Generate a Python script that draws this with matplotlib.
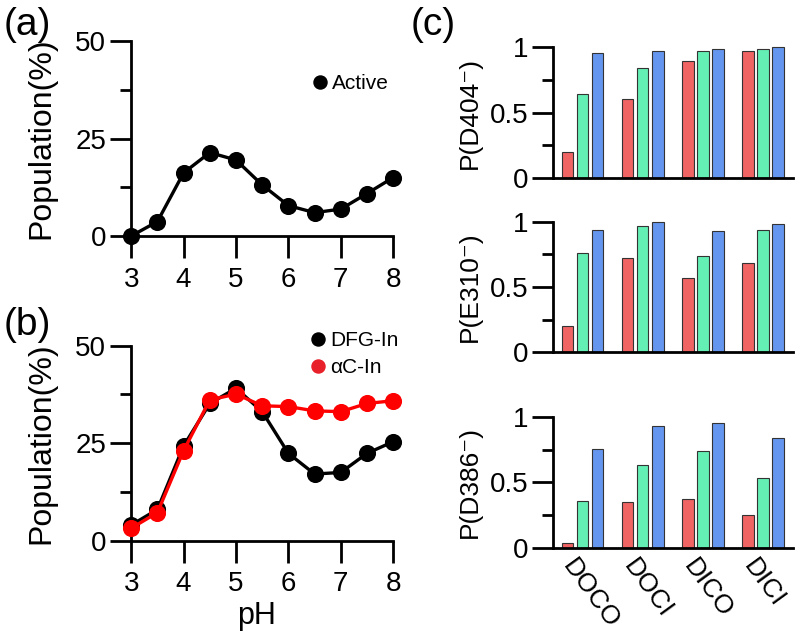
import matplotlib
matplotlib.use('Agg')
import matplotlib.pyplot as plt
import numpy as np
from matplotlib.lines import Line2D
from matplotlib.transforms import ScaledTranslation

plt.rcParams['font.family'] = ['Liberation Sans', 'DejaVu Sans']

# pH scan
ph = [3, 3.5, 4, 4.5, 5, 5.5, 6, 6.5, 7, 7.5, 8]
active = [0.0, 3.7, 16.2, 21.4, 19.5, 13.1, 7.8, 6.0, 6.9, 10.9, 15.0]
dfg_in = [4.0, 8.0, 24.3, 35.2, 39.1, 33.1, 22.4, 17.1, 17.5, 22.4, 25.4]
ac_in = [3.2, 7.2, 23.1, 36.1, 37.6, 34.6, 34.4, 33.3, 33.1, 35.2, 35.9]

# protonation probabilities, (c)
states = ['DOCO', 'DOCI', 'DICO', 'DICI']
residues = ['D404', 'E310', 'D386']
p_red = [[0.20, 0.60, 0.893, 0.972],
         [0.20, 0.722, 0.571, 0.684],
         [0.039, 0.348, 0.371, 0.25]]
p_green = [[0.64, 0.84, 0.972, 0.99],
           [0.763, 0.972, 0.742, 0.941],
           [0.361, 0.631, 0.745, 0.534]]
p_blue = [[0.954, 0.972, 0.99, 1.0],
          [0.941, 1.0, 0.931, 0.982],
          [0.755, 0.936, 0.956, 0.845]]
bar_colors = ['#f06464', '#64f0b4', '#6496f0']

TICK_FS = 20
LW = 2.0

fig = plt.figure(figsize=(8, 6.37), dpi=100)


def style_axes(ax):
    for s in ['top', 'right']:
        ax.spines[s].set_visible(False)
    for s in ['left', 'bottom']:
        ax.spines[s].set_linewidth(LW)
    ax.tick_params(axis='y', which='major', length=15, width=LW, labelsize=TICK_FS, pad=3)
    ax.tick_params(axis='y', which='minor', length=8, width=LW)


def ph_panel(ax):
    style_axes(ax)
    ax.set_xlim(3, 8)
    ax.set_ylim(0, 50)
    ax.set_xticks([3, 4, 5, 6, 7, 8])
    ax.set_yticks([0, 25, 50])
    ax.set_yticks([12.5, 37.5], minor=True)
    ax.tick_params(axis='x', which='major', length=16, width=LW, labelsize=TICK_FS, pad=6)
    ax.set_ylabel('Population(%)', fontsize=23)
    ax.yaxis.set_label_coords(-0.285, 0.5)


# (a)
ax_a = fig.add_axes([0.164, 0.6295, 0.3275, 0.306])
ph_panel(ax_a)
ax_a.plot(ph, active, '-o', color='black', lw=2.4, ms=11.3, clip_on=False, zorder=3)
ax_a.legend(handles=[Line2D([], [], ls='none', marker='o', color='black', ms=9.4)],
            labels=['Active'], loc='upper right', bbox_to_anchor=(0.985, 0.83),
            frameon=False, fontsize=15, handlelength=0.6, handletextpad=0.3,
            borderpad=0, borderaxespad=0)

# (b)
ax_b = fig.add_axes([0.164, 0.1512, 0.3275, 0.306])
ph_panel(ax_b)
ax_b.plot(ph, dfg_in, '-o', color='black', lw=2.4, ms=11.3, clip_on=False, zorder=3)
ax_b.plot(ph, ac_in, '-o', color='#ff0000', lw=2.4, ms=11.3, clip_on=False, zorder=4)
ax_b.set_xlabel('pH', fontsize=22)
ax_b.xaxis.set_label_coords(0.477, -0.31)
ax_b.legend(handles=[Line2D([], [], ls='none', marker='o', color='black', ms=9.4),
                     Line2D([], [], ls='none', marker='o', color='#e8202a', ms=9.4)],
            labels=['DFG-In', '\u03b1C-In'], loc='upper right', bbox_to_anchor=(1.02, 1.075),
            frameon=False, fontsize=15, handlelength=0.6, handletextpad=0.3,
            labelspacing=0.4, borderpad=0, borderaxespad=0)

# (c)
c_bottoms = [0.721, 0.447, 0.1402]
x = np.arange(len(states))
offsets = [-0.25, 0.0, 0.25]
for i, res in enumerate(residues):
    ax = fig.add_axes([0.6916, c_bottoms[i], 0.2996, 0.2047])
    style_axes(ax)
    for vals, off, col in zip([p_red[i], p_green[i], p_blue[i]], offsets, bar_colors):
        ax.bar(x + off, vals, width=0.19, color=col, edgecolor='#333333', linewidth=0.8,
               clip_on=False, zorder=2)
    ax.set_xlim(-0.49, 3.5)
    ax.set_ylim(0, 1)
    ax.set_yticks([0, 0.5, 1])
    ax.set_yticklabels(['0', '0.5', '1'])
    ax.set_yticks([0.25, 0.75], minor=True)
    ax.set_ylabel('P(' + res + '\u207b)', fontsize=19)
    ax.yaxis.set_label_coords(-0.30, 0.5)
    ax.set_xticks(x)
    ax.tick_params(axis='x', length=0, pad=5)
    if i < 2:
        ax.set_xticklabels([])
    else:
        ax.set_xticklabels(states, fontsize=19, rotation=-54, ha='left', va='top',
                           rotation_mode='anchor')
        shift = ScaledTranslation(-0.05, 0, fig.dpi_scale_trans)
        for lbl in ax.get_xticklabels():
            lbl.set_transform(lbl.get_transform() + shift)

# panel letters
fig.text(0.004, 0.945, '(a)', fontsize=28, va='baseline')
fig.text(0.004, 0.474, '(b)', fontsize=28, va='baseline')
fig.text(0.513, 0.945, '(c)', fontsize=28, va='baseline')

fig.savefig('out.png', dpi=100)
